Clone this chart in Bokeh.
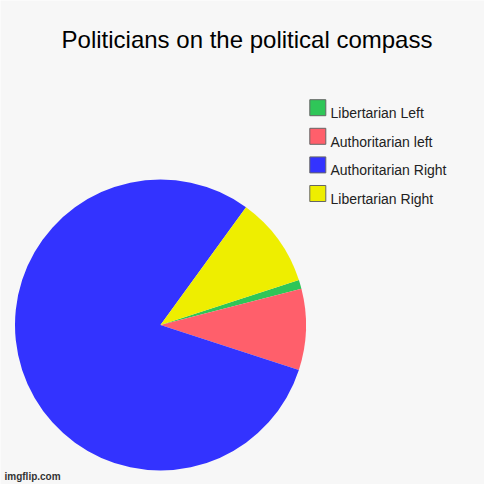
import math
from bokeh.plotting import figure
from bokeh.models import Range1d, ColumnDataSource
from bokeh.core.properties import value
from bokeh.embed import file_html
from bokeh.resources import INLINE

# ---- data ----
title = "Politicians on the political compass"
categories = ["Libertarian Left", "Authoritarian left", "Authoritarian Right", "Libertarian Right"]
values = [1, 9, 80, 10]
colors = ["#2fc658", "#ff5f6b", "#3333ff", "#eeee00"]

# ---- layout (pixels measured on the reference) ----
W = H = 484
BG = "#f7f7f7"


def X(px):
    return px


def Y(py):
    return H - py


cx, cy, R = X(160), Y(324.5), 145.5
start0 = math.radians(18.0)

total = float(sum(values))
starts, ends = [], []
cum = 0.0
for v in values:
    starts.append(start0 - 2 * math.pi * cum / total)
    cum += v
    ends.append(start0 - 2 * math.pi * cum / total)

p = figure(width=W, height=H, output_backend="svg", toolbar_location=None,
           x_range=Range1d(0, W), y_range=Range1d(0, H), min_border=0)
p.axis.visible = False
p.grid.visible = False
p.outline_line_color = None
p.background_fill_color = BG
p.border_fill_color = BG

src = ColumnDataSource(dict(x=[cx] * len(values), y=[cy] * len(values),
                            start=starts, end=ends, color=colors, cat=categories))
p.wedge(x="x", y="y", radius=R, start_angle="start", end_angle="end",
        direction="clock", fill_color="color", line_color=None, source=src)

# title
p.text(x=[X(246.5)], y=[Y(39)], text=[title], text_align="center",
       text_baseline="alphabetic", text_font=value("Liberation Sans"),
       text_font_size="24px", text_color="#000000")

# legend
box_x = X(317.3)
box_y0 = 107.2
step = 28.6
lx = [box_x] * len(categories)
ly = [Y(box_y0 + i * step) for i in range(len(categories))]
p.rect(x=lx, y=ly, width=16, height=16, fill_color=colors,
       line_color="#666666", line_width=1)
p.text(x=[X(330)] * len(categories), y=[Y(box_y0 + i * step + 5.4) for i in range(len(categories))],
       text=categories, text_align="left", text_baseline="alphabetic",
       text_font=value("Liberation Sans"), text_font_size="14px", text_color="#222222")

# watermark
p.text(x=[X(4)], y=[Y(476)], text=["imgflip.com"], text_align="left",
       text_baseline="alphabetic", text_font=value("Liberation Sans"),
       text_font_size="10px", text_font_style="bold", text_color="#333333")

open("out.html", "w").write(file_html(p, INLINE))
